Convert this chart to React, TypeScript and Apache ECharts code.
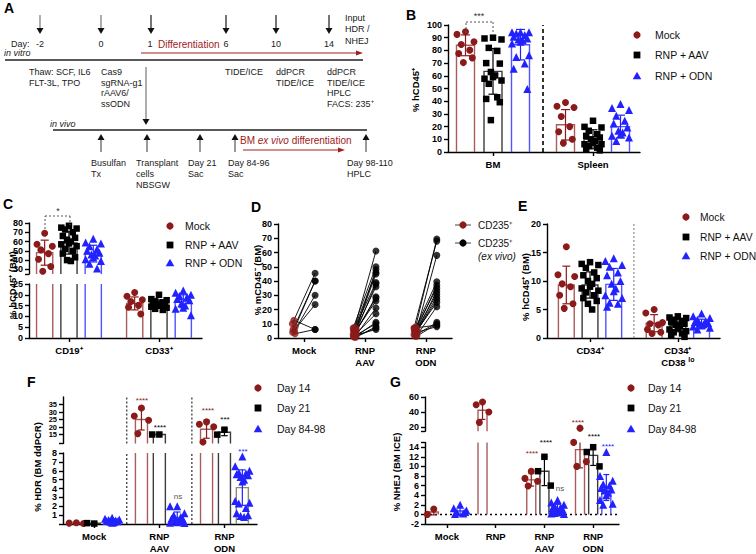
import React, { useEffect, useRef } from 'react';
import * as echarts from 'echarts';

const FF = '"Liberation Sans", Arial, sans-serif';

// ===== Panel B: % hCD45+ (BM / Spleen)
const bCats = ['BM', 'Spleen'];
const bTicks = [0, 10, 20, 30, 40, 50, 60, 70, 80, 90, 100];
const bMockMean = [84, 21.4];
const bMockSd = [8.2, 12];
const bMockPts = [
  [94.7, 92.6, 86.8, 84.7, 80.2, 77.5, 74.1, 70.4],
  [39, 36, 35, 28, 20, 16, 10, 7],
];
const bAavMean = [63.5, 10];
const bAavSd = [18, 7.5];
const bAavPts = [
  [90, 89.4, 88.6, 82, 79.6, 70, 69.6, 63, 60.3, 59, 57.7, 56.3, 53.7, 43.1, 41.8, 39.2, 25.1],
  [24.6, 19.8, 19.3, 16.7, 14, 12.7, 11.4, 10, 8.7, 7.4, 6.1, 6.1, 4.8, 3.4, 2.1, 1.3],
];
const bOdnMean = [84.5, 20];
const bOdnSd = [12, 9];
const bOdnPts = [
  [94.2, 94.2, 94.2, 93.4, 92.1, 90.7, 89.4, 88.6, 88.1, 86.8, 85.4, 76.2, 74.9, 69.6, 65.6, 49.7],
  [37.8, 34.7, 33.1, 28.6, 24.6, 22.5, 19.3, 16.7, 15.3, 14, 12.7, 11.4, 8.7],
];

// ===== Panel C: % hCD45+ (BM) CD19+ / CD33+
const cCats = ['CD19⁺', 'CD33⁺'];
const cLowTicks = [0, 5, 10, 15, 20, 25];
const cUpTicks = [25, 30, 40, 50, 60, 70, 80];
const cUpLabels = [30, 40, 50, 60, 70, 80];
const cMockMean = [48, 16];
const cMockSd = [13.5, 3];
const cMockPts = [
  [69, 57, 55, 51, 47, 41, 33, 28],
  [21.1, 19.3, 17.7, 16.9, 15.1, 14.2, 11.1],
];
const cAavMean = [58.5, 15.8];
const cAavSd = [12, 1.8];
const cAavPts = [
  [77, 75, 74, 73, 70, 66, 64, 62, 60, 58, 57, 55, 52, 50, 47, 43, 40, 39],
  [20, 18, 17.5, 17, 16.5, 16, 16, 15.5, 15, 15, 14.5, 14, 13.5, 13],
];
const cOdnMean = [47, 17];
const cOdnSd = [9, 3];
const cOdnPts = [
  [63, 59, 58, 55, 52, 50, 48, 46, 45, 43, 41, 39, 36, 31],
  [22, 21, 20, 19.5, 19, 18, 17.5, 16, 15, 14, 13.5, 10.5],
];

// ===== Panel D: % mCD45- (BM), paired CD235+ in vivo vs ex vivo
const dCats = ['Mock', 'RNP\nAAV', 'RNP\nODN'];
const dTicks = [0, 10, 20, 30, 40, 50, 60, 70, 80];
const dMockInVivo = [12.5, 10, 8, 6, 5, 4, 3];
const dMockExVivo = [6, 45.5, 40, 40, 30, 23.5, 6];
const dAavInVivo = [7.5, 7, 6.5, 6, 5.5, 5, 4.5, 4, 3.5, 3, 2.5, 2, 1.5, 1, 1, 0.5, 0.5, 2];
const dAavExVivo = [61, 50, 48, 46, 45, 39, 38, 36, 29, 28, 26, 21, 17, 11, 10, 8, 7, 6];
const dOdnInVivo = [7.5, 7, 6.5, 6, 5.5, 5, 4.5, 4, 3.5, 3, 2.5, 2, 1.5, 1, 7, 4];
const dOdnExVivo = [69.5, 68, 58, 39.5, 37, 35, 33, 31, 29, 27, 25, 22, 11, 10, 9, 8];

// ===== Panel E: % hCD45+ (BM) CD34+ / CD34+CD38lo
const eCats = ['CD34⁺', 'CD34⁺\nCD38 {s|lo}'];
const eTicks = [0, 5, 10, 15, 20];
const eMockMean = [9.3, 2.6];
const eMockSd = [3.3, 1.5];
const eMockPts = [
  [16, 11.1, 10.8, 9.5, 9, 7.5, 6, 5.2],
  [5, 4.4, 2.7, 2.5, 2.3, 1.5, 1, 0.8],
];
const eAavMean = [9.3, 2.2];
const eAavSd = [2.3, 1.1];
const eAavPts = [
  [13.3, 13, 12.8, 12.3, 11.5, 11, 10.5, 10, 9.5, 9, 8.7, 8.3, 8, 7.5, 7, 6.5, 6, 5],
  [3.8, 3.6, 3.5, 3.2, 3, 2.8, 2.5, 2.3, 2, 1.8, 1.5, 1.2, 1, 0.8, 0.5, 0.2],
];
const eOdnMean = [9.4, 2.5];
const eOdnSd = [2.8, 0.8];
const eOdnPts = [
  [14, 13.5, 12.8, 12.5, 11.5, 11, 10, 9.5, 8.7, 8.2, 7.5, 7, 6.2, 6, 5.5],
  [4.3, 3.8, 3.5, 3.2, 3, 2.8, 2.6, 2.5, 2.4, 2.2, 2, 1.8, 1.5],
];

// ===== Panel F: % HDR (BM ddPCR)
const fCats = ['Mock', 'RNP\nAAV', 'RNP\nODN'];
const fLowTicks = [0, 1, 2, 3, 4, 5, 6, 7, 8];
const fLowLabels = [1, 2, 3, 4, 5, 6, 7, 8];
const fUpTicks = [9, 10, 15, 20, 25, 30, 35, 40];
const fUpLabels = [10, 15, 20, 25, 30, 35, 40];
const fD14Mean = [0.1, 25, 18.5];
const fD14Sd = [0.05, 7, 6];
const fD14Pts = [[0.15, 0.1, 0.05], [32.7, 27.3, 24.5, 15.6], [23.4, 21.8, 20.2, 10]];
const fD21Mean = [0.08, 15, 16.5];
const fD21Sd = [0, 0, 2.3];
const fD21Pts = [[0.05, 0.1], [15, 15], [18.2, 14.9]];
const fD84Mean = [0.4, 0.75, 4.1];
const fD84Sd = [0.2, 0.6, 2];
const fD84Pts = [
  [0.7, 0.6, 0.5, 0.45, 0.4, 0.35, 0.3, 0.25, 0.2, 0.15],
  [2, 2, 1.2, 1, 0.8, 0.6, 0.5, 0.4, 0.3, 0.2, 0.15, 0.1],
  [7.6, 6.5, 6, 5.8, 5.7, 5.6, 5.5, 5.3, 5, 4.8, 2.6, 2.4, 2.3, 1.8, 1.2, 1, 0.9, 0.8],
];

// ===== Panel G: % NHEJ (BM ICE)
const gCats = ['Mock', 'RNP', 'RNP\nAAV', 'RNP\nODN'];
const gLowTicks = [-2, 0, 2, 4, 6, 8, 10, 12, 14, 15];
const gLowLabels = [-2, 0, 2, 4, 6, 8, 10, 12, 14];
const gUpTicks = [15, 20, 40, 60];
const gUpLabels = [20, 40, 60];
const gD14Mean = [0.5, 42.5, 7.2, 13.5];
const gD14Sd = [0.6, 12, 1.3, 3.8];
const gD14Pts = [[1.1, 0], [53.4, 49.9, 40.3, 26.6], [9, 7.5, 6.9, 5.9], [19, 15, 11, 10]];
const gD21Mean = [null, null, 9, 12.3];
const gD21Sd = [0, 0, 3, 2.1];
const gD21Pts = [[], [], [12, 9, 6], [14, 13, 10]];
const gD84Mean = [0.7, null, 1.2, 5.6];
const gD84Sd = [0.8, 0, 0.9, 2.7];
const gD84Pts = [
  [2, 1.3, 0.8, 0.4, 0.2, 0.1, 0.5],
  [],
  [3, 2.5, 2, 1.8, 1.5, 1.3, 1, 0.8, 0.6, 0.4, 0.2, 0.1, 0.3, 1.1],
  [13, 8, 7, 6.3, 6, 5.5, 5.2, 5, 4.5, 4, 3, 2.2, 2],
];

// ===== styles
type Style = { symbol: string; color: string; bar: string; err: string; size: number };
const RED = '#8b1a1a';
const BLUE = '#2222ff';
const ST_MOCK: Style = { symbol: 'circle', color: RED, bar: '#a85c5c', err: RED, size: 7 };
const ST_AAV: Style = { symbol: 'rect', color: '#000', bar: '#3c3c3c', err: '#000', size: 6.5 };
const ST_ODN: Style = { symbol: 'triangle', color: BLUE, bar: '#5252ff', err: BLUE, size: 8 };
const ST_D84: Style = { symbol: 'triangle', color: BLUE, bar: '#8c8c70', err: BLUE, size: 8 };
const PAT = [0, -1, 1, -0.5, 0.5, -0.8, 0.8, -0.25, 0.25];

function buildOption() {
  const grid: any[] = [];
  const xAxis: any[] = [];
  const yAxis: any[] = [];
  const series: any[] = [];
  const G: any[] = [];
  const axisLineStyle = { color: '#000', width: 1.4 };
  const tickLabel = { fontFamily: FF, fontWeight: 'bold', fontSize: 9, color: '#000' };

  function addGrid(left: number, width: number, seg: any, x: number[], cats: string[], showX: boolean, rich?: any) {
    const gi = grid.length;
    grid.push({ left, top: seg.top, width, height: seg.height });
    const xt = cats.map((_, i) => i);
    xAxis.push({
      gridIndex: gi, type: 'value', min: x[0], max: x[1], show: showX,
      axisLine: { show: true, onZero: false, lineStyle: axisLineStyle },
      axisTick: { show: true, length: 4, customValues: xt, lineStyle: axisLineStyle },
      axisLabel: {
        show: true, customValues: xt, formatter: (v: number) => cats[Math.round(v)] ?? '',
        margin: 7, lineHeight: 11.5, ...tickLabel, fontSize: 9.5, rich,
      },
      splitLine: { show: false },
    });
    yAxis.push({
      gridIndex: gi, type: 'value', min: seg.y[0], max: seg.y[1],
      axisLine: { show: true, onZero: false, lineStyle: axisLineStyle },
      axisTick: { show: true, length: 4, customValues: seg.ticks, lineStyle: axisLineStyle },
      axisLabel: { show: true, customValues: seg.labels, margin: 6, ...tickLabel, fontSize: seg.labelSize || 9, lineHeight: seg.labelSize || 9 },
      splitLine: { show: false },
    });
    return gi;
  }

  function barRender(groups: any[], yr: number[], bw: number, cap: number) {
    return (params: any, api: any) => {
      const x = api.value(0), m = api.value(1), sd = api.value(2), k = api.value(3);
      const st: Style = groups[k].st;
      const ch: any[] = [];
      const lo = Math.max(0, yr[0]);
      if (m > lo) {
        const hi = Math.min(m, yr[1]);
        const pl = api.coord([x - bw / 2, lo]);
        const pr = api.coord([x + bw / 2, hi]);
        const ls = { stroke: st.bar, lineWidth: 1.4, fill: null };
        if (m <= yr[1]) {
          ch.push({ type: 'polyline', shape: { points: [[pl[0], pl[1]], [pl[0], pr[1]], [pr[0], pr[1]], [pr[0], pl[1]]] }, style: ls });
        } else {
          ch.push({ type: 'line', shape: { x1: pl[0], y1: pl[1], x2: pl[0], y2: pr[1] }, style: ls });
          ch.push({ type: 'line', shape: { x1: pr[0], y1: pl[1], x2: pr[0], y2: pr[1] }, style: ls });
        }
      }
      if (sd > 0) {
        const e1 = m - sd, e2 = m + sd;
        const a = Math.max(e1, yr[0]), b = Math.min(e2, yr[1]);
        if (b > a) {
          const pa = api.coord([x, a]);
          const pb = api.coord([x, b]);
          const es = { stroke: st.err, lineWidth: 1.2 };
          ch.push({ type: 'line', shape: { x1: pa[0], y1: pa[1], x2: pb[0], y2: pb[1] }, style: es });
          const cl = api.coord([x - cap / 2, a])[0], cr = api.coord([x + cap / 2, a])[0];
          if (e1 >= yr[0]) ch.push({ type: 'line', shape: { x1: cl, y1: pa[1], x2: cr, y2: pa[1] }, style: es });
          if (e2 <= yr[1]) ch.push({ type: 'line', shape: { x1: cl, y1: pb[1], x2: cr, y2: pb[1] }, style: es });
        }
      }
      return { type: 'group', children: ch };
    };
  }

  function vline(gi: number, x: number, yr: number[], style: any) {
    series.push({
      type: 'line', xAxisIndex: gi, yAxisIndex: gi, data: [[x, yr[0]], [x, yr[1]]],
      symbol: 'none', silent: true, z: 1, lineStyle: style,
    });
  }

  function barPanel(p: any) {
    const assign = (v: number) => {
      for (let s = 0; s < p.segs.length; s++) if (v <= p.segs[s].y[1]) return s;
      return p.segs.length - 1;
    };
    p.segs.forEach((seg: any, si: number) => {
      const gi = addGrid(p.left, p.width, seg, p.x, p.cats, si === 0, p.rich);
      const data: any[] = [];
      p.groups.forEach((g: any, k: number) => g.mean.forEach((m: number | null, c: number) => {
        if (m != null) data.push([c + p.offsets[k], m, g.sd[c] || 0, k]);
      }));
      series.push({
        type: 'custom', xAxisIndex: gi, yAxisIndex: gi, data, z: 2, silent: true,
        renderItem: barRender(p.groups, seg.y, p.bw, p.cap),
      });
      p.groups.forEach((g: any, k: number) => {
        const pts: any[] = [];
        g.pts.forEach((arr: number[], c: number) => arr.forEach((v, i) => {
          if (assign(v) === si) pts.push([c + p.offsets[k] + PAT[i % PAT.length] * p.jitter, v]);
        }));
        series.push({
          type: 'scatter', xAxisIndex: gi, yAxisIndex: gi, data: pts, symbol: g.st.symbol,
          symbolSize: g.st.size, itemStyle: { color: g.st.color, opacity: 1 }, z: 5, silent: true, clip: false,
        });
      });
      (p.seps || []).forEach((sx: number) => vline(gi, sx, seg.y, p.sepStyle));
      if (p.zero && si === 0) {
        series.push({
          type: 'line', xAxisIndex: gi, yAxisIndex: gi, data: [[p.x[0], 0], [p.x[1], 0]],
          symbol: 'none', silent: true, z: 1, lineStyle: { color: '#000', width: 1.5, type: [2, 3] },
        });
      }
    });
  }

  // B
  barPanel({
    left: 448, width: 192, x: [-0.45, 1.47], cats: bCats,
    segs: [{ top: 25, height: 127, y: [0, 100], ticks: bTicks, labels: bTicks }],
    groups: [
      { mean: bMockMean, sd: bMockSd, pts: bMockPts, st: ST_MOCK },
      { mean: bAavMean, sd: bAavSd, pts: bAavPts, st: ST_AAV },
      { mean: bOdnMean, sd: bOdnSd, pts: bOdnPts, st: ST_ODN },
    ],
    offsets: [-0.275, 0, 0.275], bw: 0.18, cap: 0.09, jitter: 0.085,
    seps: [0.5], sepStyle: { color: '#000', width: 1.6, type: [4, 3] },
  });
  // C
  barPanel({
    left: 29, width: 173, x: [-0.444, 1.478], cats: cCats,
    segs: [
      { top: 284, height: 54, y: [0, 25], ticks: cLowTicks, labels: cLowTicks },
      { top: 223, height: 51, y: [25, 80], ticks: cUpTicks, labels: cUpLabels },
    ],
    groups: [
      { mean: cMockMean, sd: cMockSd, pts: cMockPts, st: ST_MOCK },
      { mean: cAavMean, sd: cAavSd, pts: cAavPts, st: ST_AAV },
      { mean: cOdnMean, sd: cOdnSd, pts: cOdnPts, st: ST_ODN },
    ],
    offsets: [-0.27, 0, 0.27], bw: 0.18, cap: 0.09, jitter: 0.085,
  });
  // E
  barPanel({
    left: 547, width: 173, x: [-0.49, 1.48], cats: eCats,
    rich: { s: { fontFamily: FF, fontWeight: 'bold', fontSize: 7, color: '#000', padding: [0, 0, 6, 0] } },
    segs: [{ top: 224, height: 114, y: [0, 20], ticks: eTicks, labels: eTicks }],
    groups: [
      { mean: eMockMean, sd: eMockSd, pts: eMockPts, st: ST_MOCK },
      { mean: eAavMean, sd: eAavSd, pts: eAavPts, st: ST_AAV },
      { mean: eOdnMean, sd: eOdnSd, pts: eOdnPts, st: ST_ODN },
    ],
    offsets: [-0.27, 0, 0.27], bw: 0.18, cap: 0.09, jitter: 0.095,
    seps: [0.5], sepStyle: { color: '#777', width: 1, type: [2, 2] },
  });
  // F
  barPanel({
    left: 63, width: 194, x: [-0.48, 2.5], cats: fCats,
    segs: [
      { top: 453, height: 72, y: [0, 8], ticks: fLowTicks, labels: fLowLabels },
      { top: 397, height: 46.5, y: [9, 40], ticks: fUpTicks, labels: fUpLabels, labelSize: 7.5 },
    ],
    groups: [
      { mean: fD14Mean, sd: fD14Sd, pts: fD14Pts, st: ST_MOCK },
      { mean: fD21Mean, sd: fD21Sd, pts: fD21Pts, st: ST_AAV },
      { mean: fD84Mean, sd: fD84Sd, pts: fD84Pts, st: ST_D84 },
    ],
    offsets: [-0.275, 0, 0.275], bw: 0.185, cap: 0.1, jitter: 0.11,
    seps: [0.5, 1.5], sepStyle: { color: '#000', width: 1, type: [2, 2] },
  });
  // G
  barPanel({
    left: 425, width: 194, x: [-0.45, 3.53], cats: gCats,
    segs: [
      { top: 442.4, height: 82.6, y: [-2, 15], ticks: gLowTicks, labels: gLowLabels },
      { top: 397, height: 34.2, y: [15, 60], ticks: gUpTicks, labels: gUpLabels },
    ],
    groups: [
      { mean: gD14Mean, sd: gD14Sd, pts: gD14Pts, st: ST_MOCK },
      { mean: gD21Mean, sd: gD21Sd, pts: gD21Pts, st: ST_AAV },
      { mean: gD84Mean, sd: gD84Sd, pts: gD84Pts, st: ST_ODN },
    ],
    offsets: [-0.27, 0, 0.27], bw: 0.185, cap: 0.12, jitter: 0.13, zero: true,
  });

  // D
  const dGi = addGrid(278, 174, { top: 224, height: 114, y: [0, 80], ticks: dTicks, labels: dTicks }, [-0.43, 2.43], dCats, true);
  const dIn = [dMockInVivo, dAavInVivo, dOdnInVivo];
  const dEx = [dMockExVivo, dAavExVivo, dOdnExVivo];
  const lineData: any[] = [], inData: any[] = [], exData: any[] = [];
  dIn.forEach((arr, c) => arr.forEach((v, i) => {
    const xi = c - 0.17 + PAT[i % PAT.length] * 0.025;
    const xe = c + 0.18;
    lineData.push([xi, v, xe, dEx[c][i]]);
    inData.push([xi, v]);
    exData.push([xe, dEx[c][i]]);
  }));
  series.push({
    type: 'custom', xAxisIndex: dGi, yAxisIndex: dGi, data: lineData, encode: { x: [0, 2], y: [1, 3] }, z: 3, silent: true,
    renderItem: (params: any, api: any) => {
      const a = api.coord([api.value(0), api.value(1)]);
      const b = api.coord([api.value(2), api.value(3)]);
      return { type: 'line', shape: { x1: a[0], y1: a[1], x2: b[0], y2: b[1] }, style: { stroke: '#000', lineWidth: 0.9 } };
    },
  });
  series.push({ type: 'scatter', xAxisIndex: dGi, yAxisIndex: dGi, data: inData, symbol: 'circle', symbolSize: 7, itemStyle: { color: RED }, z: 5, silent: true, clip: false });
  series.push({ type: 'scatter', xAxisIndex: dGi, yAxisIndex: dGi, data: exData, symbol: 'circle', symbolSize: 7, itemStyle: { color: '#000' }, z: 5, silent: true, clip: false });

  // ===== graphic helpers
  const T = (x: number, y: number, text: string, o: any = {}) => G.push({
    type: 'text', x, y, z: 50, rotation: o.rot || 0, silent: true,
    style: {
      text, fill: o.fill || '#1a1a1a', fontSize: o.size || 9, fontFamily: FF,
      fontWeight: o.bold ? 'bold' : 'normal', fontStyle: o.italic ? 'italic' : 'normal',
      align: o.align || 'left', verticalAlign: 'middle', rich: o.rich,
    },
  });
  const L = (x1: number, y1: number, x2: number, y2: number, o: any = {}) => G.push({
    type: 'line', z: 50, silent: true, shape: { x1, y1, x2, y2 },
    style: { stroke: o.c || '#1a1a1a', lineWidth: o.w || 1, lineDash: o.dash },
  });
  const P = (pts: number[][], fill: string) => G.push({ type: 'polygon', z: 50, silent: true, shape: { points: pts }, style: { fill } });
  const down = (x: number, y1: number, tip: number, c = '#1a1a1a') => {
    L(x, y1, x, tip - 5, { c, w: 1.2 });
    P([[x - 3.5, tip - 6], [x + 3.5, tip - 6], [x, tip]], '#111');
  };
  const up = (x: number, tip: number, y2: number, c = '#555') => {
    L(x, tip + 5, x, y2, { c, w: 1.2 });
    P([[x - 3.5, tip + 6], [x + 3.5, tip + 6], [x, tip]], '#111');
  };
  const marker = (x: number, y: number, st: Style) => {
    if (st.symbol === 'circle') G.push({ type: 'circle', z: 50, shape: { cx: x, cy: y, r: 3.6 }, style: { fill: st.color } });
    else if (st.symbol === 'rect') G.push({ type: 'rect', z: 50, shape: { x: x - 3.4, y: y - 3.4, width: 6.8, height: 6.8 }, style: { fill: st.color } });
    else P([[x, y - 4.3], [x - 4.3, y + 3.3], [x + 4.3, y + 3.3]], st.color);
  };
  const legend = (mx: number, tx: number, ys: number[], labels: string[], sts: Style[], size = 10.5) => {
    ys.forEach((y, i) => { marker(mx, y, sts[i]); T(tx, y, labels[i], { size, fill: '#111' }); });
  };

  // ===== Panel A (timeline)
  const DR = '#a02020';
  [40, 101].forEach((x) => down(x, 15, 34, '#777'));
  [151, 226, 276, 329].forEach((x) => down(x, 15, 34));
  T(11, 44, 'Day:'); T(40, 44, '-2', { align: 'center' }); T(101, 44, '0', { align: 'center' });
  T(150, 44, '1', { align: 'center' }); T(158, 44, 'Differentiation', { fill: DR, size: 10 });
  T(226, 44, '6', { align: 'center' }); T(276, 44, '10', { align: 'center' }); T(329, 44, '14', { align: 'center' });
  T(345, 18, 'Input'); T(345, 29, 'HDR /'); T(345, 41, 'NHEJ');
  T(4, 53, 'in vitro', { italic: true });
  L(141, 53, 357, 53, { c: DR, w: 1.2 }); P([[363, 53], [356, 50.5], [356, 55.5]], DR);
  L(5, 60, 363, 60, { c: '#222', w: 1.6 });
  T(29, 72, 'Thaw: SCF, IL6'); T(29, 83, 'FLT-3L, TPO');
  T(101, 72, 'Cas9'); T(101, 83, 'sgRNA-g1'); T(101, 93, 'rAAV6/'); T(101, 104, 'ssODN');
  down(146, 67, 125, '#777');
  T(225, 72, 'TIDE/ICE');
  T(276, 72, 'ddPCR'); T(276, 83, 'TIDE/ICE');
  T(327, 72, 'ddPCR'); T(327, 83, 'TIDE/ICE'); T(327, 93, 'HPLC'); T(327, 104, 'FACS: 235⁺');
  T(50, 124, 'in vivo', { italic: true });
  L(53, 130, 367, 130, { c: '#222', w: 1.4 });
  [101, 147, 200, 235, 366].forEach((x) => up(x, 134, 152));
  T(240, 140, '{n|BM }{i|ex vivo}{n| differentiation}', {
    rich: {
      n: { fill: DR, fontSize: 10, fontFamily: FF },
      i: { fill: DR, fontSize: 10, fontFamily: FF, fontStyle: 'italic' },
    },
  });
  L(243, 150, 339, 150, { c: DR, w: 1.2 }); P([[345, 150], [338, 147.5], [338, 152.5]], DR);
  T(91, 163, 'Busulfan'); T(91, 174, 'Tx');
  T(136, 163, 'Transplant'); T(136, 174, 'cells'); T(136, 185, 'NBSGW');
  T(188, 163, 'Day 21'); T(188, 174, 'Sac');
  T(228, 163, 'Day 84-96'); T(228, 174, 'Sac');
  T(347, 163, 'Day 98-110'); T(347, 174, 'HPLC');

  // ===== panel letters
  const LET = { bold: true, size: 14, fill: '#000' };
  T(4, 8, 'A', LET); T(406, 15, 'B', LET); T(3, 204, 'C', LET); T(251, 207, 'D', LET);
  T(518, 206, 'E', LET); T(27, 382, 'F', LET); T(390, 382, 'G', LET);

  // ===== y-axis titles
  const YT = { bold: true, size: 9.5, fill: '#000', rot: Math.PI / 2, align: 'center' };
  T(415, 90, '% hCD45⁺', YT);
  T(12, 285, '% hCD45⁺ (BM)', YT);
  T(257, 280, '% mCD45⁻ (BM)', YT);
  T(525, 287, '% hCD45⁺ (BM)', YT);
  T(37, 467, '% HDR (BM ddPCR)', YT);
  T(396, 472, '% NHEJ (BM ICE)', YT);

  // ===== legends
  legend(637, 655, [35, 55, 76], ['Mock', 'RNP + AAV', 'RNP + ODN'], [ST_MOCK, ST_AAV, ST_ODN]);
  legend(170, 185, [226, 245, 263], ['Mock', 'RNP + AAV', 'RNP + ODN'], [ST_MOCK, ST_AAV, ST_ODN]);
  legend(686, 700, [217, 237, 256], ['Mock', 'RNP + AAV', 'RNP + ODN'], [ST_MOCK, ST_AAV, ST_ODN], 10.3);
  legend(258, 277, [388, 408, 429], ['Day 14', 'Day 21', 'Day 84-98'], [ST_MOCK, ST_AAV, ST_ODN]);
  legend(631, 648, [388, 408, 429], ['Day 14', 'Day 21', 'Day 84-98'], [ST_MOCK, ST_AAV, ST_ODN]);
  L(455, 225, 471, 225, { c: '#444', w: 1 }); marker(463, 225, ST_MOCK); T(478, 225, 'CD235⁺', { size: 10, fill: '#111' });
  L(455, 243, 471, 243, { c: '#444', w: 1 }); marker(463, 243, { ...ST_MOCK, color: '#000' }); T(478, 243, 'CD235⁺', { size: 10, fill: '#111' });
  T(478, 256, '(ex vivo)', { size: 10, fill: '#111', italic: true });

  // ===== significance annotations
  const dash = { c: '#555', w: 1, dash: [2, 2] };
  L(466, 33, 466, 22, dash); L(466, 22, 493, 22, dash); L(493, 22, 493, 33, dash);
  T(479, 16, '***', { align: 'center', size: 9, fill: '#333' });
  L(45, 229, 45, 216, dash); L(45, 216, 70, 216, dash); L(70, 216, 70, 225, dash);
  T(58, 211, '*', { align: 'center', size: 9, fill: '#333' });
  const S = (x: number, y: number, t: string, c: string) => T(x, y, t, { align: 'center', size: 8, fill: c });
  S(142, 400, '****', RED); S(160, 427, '****', '#000'); S(178, 496, 'ns', '#555');
  S(208, 410, '****', RED); S(225, 419, '***', '#000'); S(243, 451, '***', BLUE);
  S(532, 453, '****', RED); S(546, 442, '****', '#000'); S(560, 488, 'ns', '#555');
  S(578, 422, '****', RED); S(594, 436, '****', '#000'); S(608, 446, '****', BLUE);

  return {
    animation: false,
    backgroundColor: '#fff',
    grid, xAxis, yAxis, series,
    graphic: { elements: G },
  };
}

export default function App() {
  const ref = useRef<HTMLDivElement>(null);
  useEffect(() => {
    const chart = echarts.init(ref.current!, null, { renderer: 'svg', width: 756, height: 554 });
    chart.setOption(buildOption() as any);
    return () => chart.dispose();
  }, []);
  return <div ref={ref} style={{ position: 'fixed', left: 0, top: 0, width: 756, height: 554, background: '#fff' }} />;
}
